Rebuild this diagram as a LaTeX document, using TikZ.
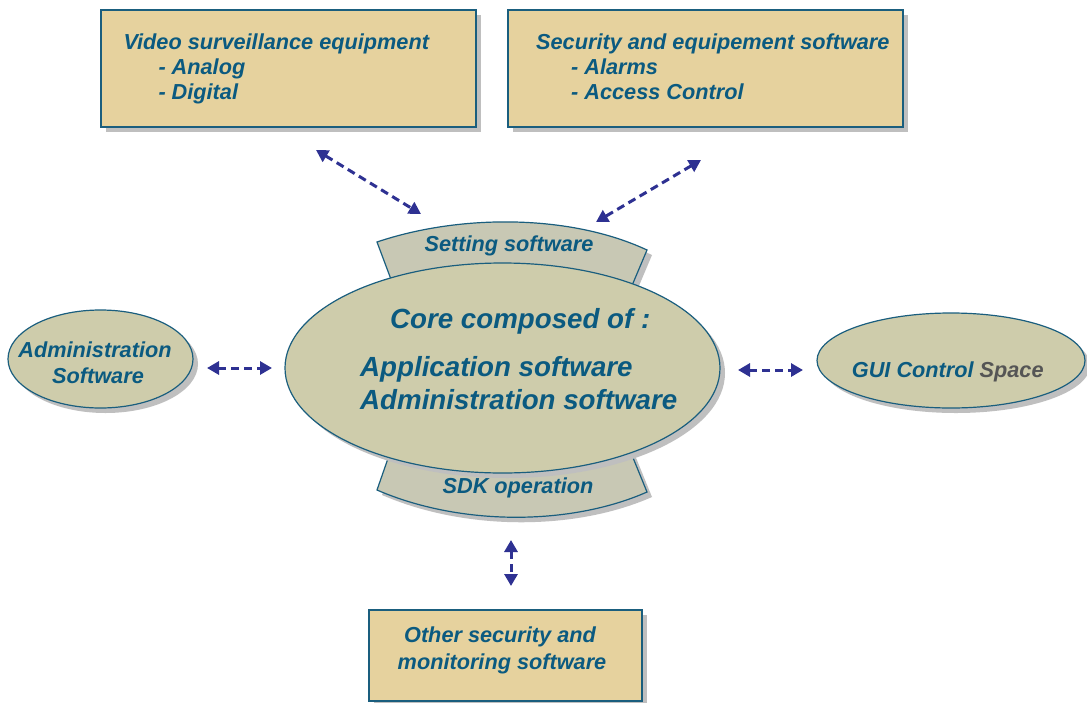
\documentclass[tikz,border=0pt]{standalone}
\usepackage{fontspec}
\setmainfont{Liberation Sans}
\usetikzlibrary{shapes.geometric,shadows,arrows.meta}
\definecolor{boxfill}{HTML}{E6D29E}
\definecolor{ellfill}{HTML}{CECCAB}
\definecolor{bandfill}{HTML}{C8C8B4}
\definecolor{bordercol}{HTML}{1A5E7E}
\definecolor{textcol}{HTML}{0B5A80}
\definecolor{greytext}{HTML}{555555}
\definecolor{arrowcol}{HTML}{2E3192}
\tikzset{
  shad/.style={drop shadow={shadow xshift=5pt,shadow yshift=-5pt,fill=black!25,opacity=1}},
  boxstyle/.style={rectangle,draw=bordercol,line width=1.5pt,fill=boxfill,shad,inner sep=0pt},
  ellstyle/.style={ellipse,draw=bordercol,line width=1.2pt,fill=ellfill,shad,inner sep=0pt},
  bandstyle/.style={draw=bordercol,line width=1.2pt,fill=bandfill,shad},
  lbl/.style={text=textcol,inner sep=0pt,font=\fontsize{21.7}{25}\selectfont\bfseries\itshape},
  biglbl/.style={text=textcol,inner sep=0pt,font=\fontsize{27.7}{33}\selectfont\bfseries\itshape},
  link/.style={draw=arrowcol,line width=3pt,dash pattern=on 8pt off 5pt,
    {Triangle[length=12pt,width=13pt]}-{Triangle[length=12pt,width=13pt]}}
}
\begin{document}
\begin{tikzpicture}[x=1pt,y=-1pt]
\useasboundingbox (0,0) rectangle (1087,702);
\fill[white] (0,0) rectangle (1087,702);

% boxes
\node[boxstyle,minimum width=375pt,minimum height=117pt] (vid) at (288.5,68.5) {};
\node[boxstyle,minimum width=395pt,minimum height=117pt] (sec) at (705.5,68.5) {};
\node[boxstyle,minimum width=273pt,minimum height=91pt] (oth) at (505.5,655.5) {};

% bands behind the core
\path[bandstyle] (395,290) -- (377,242) .. controls (460,214) and (570,214) .. (647,250) -- (628,295) -- cycle;
\path[bandstyle] (392,447) -- (377,490) .. controls (460,526) and (570,526) .. (647,492) -- (627,443) -- cycle;

% ellipses
\node[ellstyle,minimum width=435pt,minimum height=210pt] (core) at (502.5,368) {};
\node[ellstyle,minimum width=185pt,minimum height=98pt] (adm) at (100.5,359) {};
\node[ellstyle,minimum width=268pt,minimum height=95pt] (gui) at (951,360.5) {};

% texts
\node[lbl,anchor=base west] (vidt1) at (123.3,49.3) {Video surveillance equipment};
\node[lbl,anchor=base west] (vidt2) at (158.3,74) {- Analog};
\node[lbl,anchor=base west] (vidt3) at (158.3,99.3) {- Digital};
\node[lbl,anchor=base west] (sect1) at (536,49.3) {Security and equipement software};
\node[lbl,anchor=base west] (sect2) at (571,74) {- Alarms};
\node[lbl,anchor=base west] (sect3) at (571,99.3) {- Access Control};
\node[lbl,anchor=base] (otht1) at (500,642.7) {Other security and};
\node[lbl,anchor=base] (otht2) at (502,669.3) {monitoring software};
\node[lbl,anchor=base] (sett) at (509,251.7) {Setting software};
\node[lbl,anchor=base] (sdkt) at (518,493.3) {SDK operation};
\node[biglbl,anchor=base west] (coret) at (390,328.7) {Core composed of :};
\node[biglbl,anchor=base west] (corea) at (360,376) {Application software};
\node[biglbl,anchor=base west] (coreb) at (360,409) {Administration software};
\node[lbl,anchor=base] (admt1) at (95,357.3) {Administration};
\node[lbl,anchor=base] (admt2) at (98,383.3) {Software};
\node[lbl,anchor=base west] (guit) at (851.7,377.3) {GUI Control \textcolor{greytext}{Space}};

% arrow end points
\coordinate (a1s) at (316,150);
\coordinate (a1e) at (421,214);
\coordinate (a2s) at (701,160);
\coordinate (a2e) at (596,222);
\coordinate (a3s) at (207,368);
\coordinate (a3e) at (272,368);
\coordinate (a4s) at (738,370);
\coordinate (a4e) at (803,370);
\coordinate (a5s) at (511,540);
\coordinate (a5e) at (511,586);

\draw[link] (a1s) -- (a1e);
\draw[link] (a2s) -- (a2e);
\draw[link] (a3s) -- (a3e);
\draw[link] (a4s) -- (a4e);
\draw[link] (a5s) -- (a5e);
\end{tikzpicture}
\end{document}
